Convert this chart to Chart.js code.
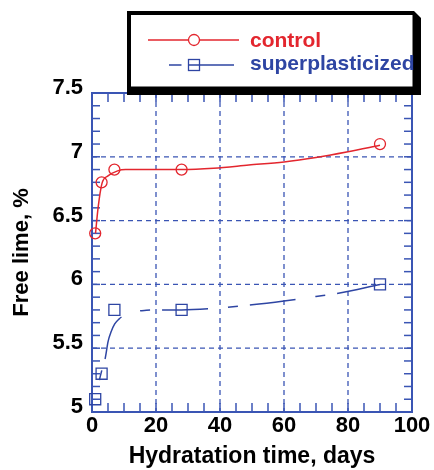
<!DOCTYPE html>
<html>
<head>
<meta charset="utf-8">
<script src="https://cdn.jsdelivr.net/npm/chart.js@4/dist/chart.umd.min.js"></script>
<style>
	html, body { margin: 0; padding: 0; background: #fff; }
	#wrap { width: 434px; height: 470px; }
</style>
</head>
<body>
<div id="wrap"><canvas id="limeChart" width="434" height="470"></canvas></div>
<script>
// measured free lime (%) against hydration age (days)
const days = [1, 3, 7, 28, 90]
const controlLime = [6.4, 6.8, 6.9, 6.9, 7.1]
const superLime = [5.1, 5.3, 5.8, 5.8, 6.0]

// fitted trend curves
const controlFitDays = [1.1, 1.9, 3.1, 5, 8, 10.5, 20, 28, 38, 49, 60, 70, 80, 90]
const controlFitLime = [6.4, 6.6, 6.79, 6.85, 6.89, 6.9, 6.9, 6.9, 6.91, 6.935, 6.96, 6.995, 7.04, 7.09]
const superFitDays = [2.3, 3.1, 4.2, 5, 6, 7.1, 8.5, 10.2, 13, 17, 20, 28, 37, 50, 60, 70, 77, 90]
const superFitLime = [5.25, 5.33, 5.43, 5.55, 5.63, 5.69, 5.73, 5.76, 5.785, 5.797, 5.8, 5.8, 5.81, 5.84, 5.87, 5.905, 5.93, 6.0]

const seriesNames = ['control', 'superplasticized']
const red = '#e3262e'
const blue = '#2e45a3'
const gridBlue = '#3a55b4'
const font = 'Arial, "Liberation Sans", Helvetica, sans-serif'

const toPoints = (xs, ys) => xs.map((v, i) => ({ x: v, y: ys[i] }))

// dashed grid, inward minor ticks and the box around the plot
const framePlugin = {
	id: 'frame',
	beforeDatasetsDraw(chart) {
		const { ctx, chartArea: a, scales: { x, y } } = chart
		const seg = (x1, y1, x2, y2) => {
			ctx.beginPath()
			ctx.moveTo(x1, y1)
			ctx.lineTo(x2, y2)
			ctx.stroke()
		}
		ctx.save()
		ctx.strokeStyle = gridBlue
		ctx.lineWidth = 1.3
		ctx.setLineDash([5, 4])
		for (let v = 20; v < 100; v += 20) {
			const px = x.getPixelForValue(v)
			seg(px, a.top, px, a.bottom)
		}
		for (let v = 5.5; v < 7.5; v += 0.5) {
			const py = y.getPixelForValue(v)
			seg(a.left, py, a.right, py)
		}
		ctx.setLineDash([])
		ctx.lineWidth = 1.5
		for (let v = 5; v < 100; v += 5) {
			const px = x.getPixelForValue(v)
			seg(px, a.bottom, px, a.bottom - 9)
			seg(px, a.top, px, a.top + 9)
		}
		for (let i = 1; i < 25; i++) {
			const py = y.getPixelForValue(5 + i * 0.1)
			seg(a.left, py, a.left + 8, py)
			seg(a.right, py, a.right - 8, py)
		}
		ctx.lineWidth = 2
		ctx.strokeRect(a.left, a.top, a.right - a.left, a.bottom - a.top)
		ctx.restore()
	}
}

// boxed legend with a drop shadow
const legendPlugin = {
	id: 'boxLegend',
	afterDraw(chart) {
		const { ctx } = chart
		ctx.save()
		ctx.fillStyle = '#000'
		ctx.beginPath()
		ctx.moveTo(127, 11)
		ctx.lineTo(414, 11)
		ctx.lineTo(421, 18)
		ctx.lineTo(421, 95)
		ctx.lineTo(127, 95)
		ctx.closePath()
		ctx.fill()
		ctx.fillStyle = '#fff'
		ctx.fillRect(131, 15, 281.5, 71.5)

		// control: solid line with circle
		ctx.strokeStyle = red
		ctx.lineWidth = 1.3
		ctx.beginPath()
		ctx.moveTo(148, 40)
		ctx.lineTo(239, 40)
		ctx.stroke()
		ctx.fillStyle = '#fff'
		ctx.beginPath()
		ctx.arc(194, 40, 5.5, 0, Math.PI * 2)
		ctx.fill()
		ctx.stroke()

		// superplasticized: dashed line with square
		ctx.strokeStyle = blue
		ctx.setLineDash([12.5, 7, 100])
		ctx.beginPath()
		ctx.moveTo(169, 65)
		ctx.lineTo(234, 65)
		ctx.stroke()
		ctx.setLineDash([])
		ctx.strokeRect(188.5, 59.5, 11, 11)

		ctx.font = 'bold 21px ' + font
		ctx.textBaseline = 'alphabetic'
		ctx.fillStyle = red
		ctx.fillText(seriesNames[0], 250, 47)
		ctx.fillStyle = blue
		ctx.fillText(seriesNames[1], 250, 70)
		ctx.restore()
	}
}

const chart = new Chart(document.getElementById('limeChart'), {
	type: 'scatter',
	data: {
		datasets: [
			{
				label: seriesNames[0] + ' fit',
				data: toPoints(controlFitDays, controlFitLime),
				showLine: true,
				borderColor: red,
				borderWidth: 1.5,
				pointRadius: 0,
				cubicInterpolationMode: 'monotone'
			},
			{
				label: seriesNames[1] + ' fit',
				data: toPoints(superFitDays, superFitLime),
				showLine: true,
				borderColor: blue,
				borderWidth: 1.5,
				borderDash: [10, 12, 46, 20],
				pointRadius: 0,
				cubicInterpolationMode: 'monotone'
			},
			{
				label: seriesNames[0],
				data: toPoints(days, controlLime),
				pointStyle: 'circle',
				pointRadius: 5.5,
				pointBorderWidth: 1.3,
				pointBorderColor: red,
				pointBackgroundColor: 'rgba(0,0,0,0)',
				clip: false
			},
			{
				label: seriesNames[1],
				data: toPoints(days, superLime),
				pointStyle: 'rect',
				pointRadius: 7.8,
				pointBorderWidth: 1.3,
				pointBorderColor: blue,
				pointBackgroundColor: 'rgba(0,0,0,0)',
				clip: false
			}
		]
	},
	options: {
		responsive: false,
		animation: false,
		layout: { padding: { top: 93, right: 22, left: 0, bottom: 0 } },
		plugins: { legend: { display: false }, tooltip: { enabled: false } },
		scales: {
			x: {
				type: 'linear',
				min: 0,
				max: 100,
				afterFit: s => { s.height = 58 },
				grid: { display: false, drawTicks: false },
				border: { display: false },
				ticks: {
					stepSize: 20,
					autoSkip: false,
					maxRotation: 0,
					padding: 1,
					color: '#000',
					font: { family: font, size: 22, weight: 'bold' }
				},
				title: {
					display: true,
					text: 'Hydratation time, days',
					color: '#000',
					padding: 0,
					font: { family: font, size: 23, weight: 'bold' }
				}
			},
			y: {
				min: 5,
				max: 7.5,
				afterFit: s => { s.width = 92 },
				grid: { display: false, drawTicks: false },
				border: { display: false },
				ticks: {
					stepSize: 0.5,
					autoSkip: false,
					padding: 9,
					labelOffset: -5,
					color: '#000',
					font: { family: font, size: 22, weight: 'bold' },
					callback: v => String(v)
				},
				title: {
					display: true,
					text: 'Free lime, %',
					color: '#000',
					padding: { top: 9, bottom: 0 },
					font: { family: font, size: 22, weight: 'bold' }
				}
			}
		}
	},
	plugins: [framePlugin, legendPlugin]
})
</script>
</body>
</html>
